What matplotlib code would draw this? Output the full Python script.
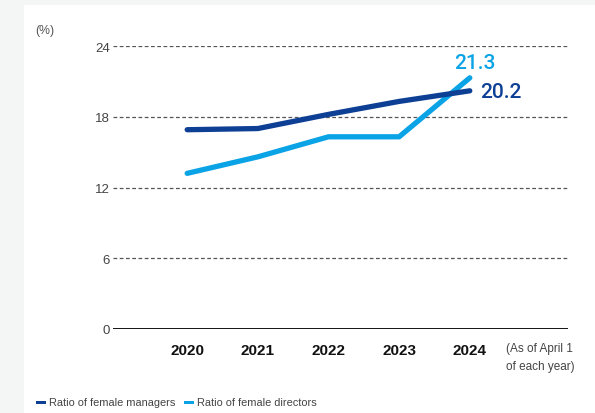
import matplotlib.pyplot as plt
from matplotlib.patches import Rectangle

plt.rcParams['font.family'] = ['Liberation Sans', 'DejaVu Sans']

years = [2020, 2021, 2022, 2023, 2024]
managers = [16.9, 17.0, 18.2, 19.3, 20.2]
directors = [13.2, 14.6, 16.3, 16.3, 21.3]
yticks = [0, 6, 12, 18, 24]

dark_blue = '#0d3f95'
light_blue = '#0aa3e6'

fig = plt.figure(figsize=(5.95, 4.14), dpi=100, facecolor='#f4f5f5')
fig.patches.append(Rectangle((24 / 595, 0), 1, 1 - 6 / 414, transform=fig.transFigure,
                             facecolor='white', edgecolor='none', zorder=-10))

ax = fig.add_axes([113 / 595, 1 - 330 / 414, (568 - 113) / 595, (330 - 47) / 414])
ax.set_facecolor('none')

ax.plot(years, managers, color=dark_blue, lw=3.8, solid_capstyle='round',
        solid_joinstyle='round', clip_on=False, zorder=4)
ax.plot(years, directors, color=light_blue, lw=3.8, solid_capstyle='round',
        solid_joinstyle='round', clip_on=False, zorder=3)

# value labels at the last year
ax.text(years[-1] + 0.07, directors[-1] + 0.5, f'{directors[-1]}', color=light_blue,
        fontsize=15, family='Roboto', fontweight='medium', ha='center', va='bottom')
ax.text(years[-1] + 0.14, managers[-1] - 0.1, f'{managers[-1]}', color=dark_blue,
        fontsize=15, family='Roboto', fontweight='medium', ha='left', va='center')

ax.set_xlim(2018.95, 2025.39)
ax.set_ylim(0, 24)

for y in yticks[1:]:
    ax.axhline(y, color='#555555', lw=0.9, ls=(0, (3, 2)), zorder=1)
ax.axhline(0, color='black', lw=1.3, zorder=2)

ax.set_yticks(yticks)
ax.set_yticklabels([str(v) for v in yticks], color='#444444', fontsize=9.5)
ax.set_xticks(years)
ax.set_xticklabels([str(v) for v in years], fontweight='bold', fontsize=11, color='#111111')
ax.tick_params(axis='y', length=0, pad=2)
ax.tick_params(axis='x', length=0, pad=10)
for s in ax.spines.values():
    s.set_visible(False)

fig.text(35 / 595, 1 - 31 / 414, '(%)', color='#555555', fontsize=8.8, va='center')
fig.text(506 / 595, 1 - 358 / 414, '(As of April 1\nof each year)', color='#444444',
         fontsize=8.5, va='center', ha='left', linespacing=1.6)

# legend along the bottom
fig.patches.append(Rectangle((36 / 595, 1 - 405 / 414), 10 / 595, 3.5 / 414,
                             transform=fig.transFigure, facecolor=dark_blue))
fig.text(49 / 595, 1 - 403 / 414, 'Ratio of female managers', color='#444444',
         fontsize=7.9, va='center')
fig.patches.append(Rectangle((184 / 595, 1 - 405 / 414), 10 / 595, 3.5 / 414,
                             transform=fig.transFigure, facecolor=light_blue))
fig.text(197 / 595, 1 - 403 / 414, 'Ratio of female directors', color='#444444',
         fontsize=7.9, va='center')

fig.savefig('out.png', dpi=100, facecolor=fig.get_facecolor())
